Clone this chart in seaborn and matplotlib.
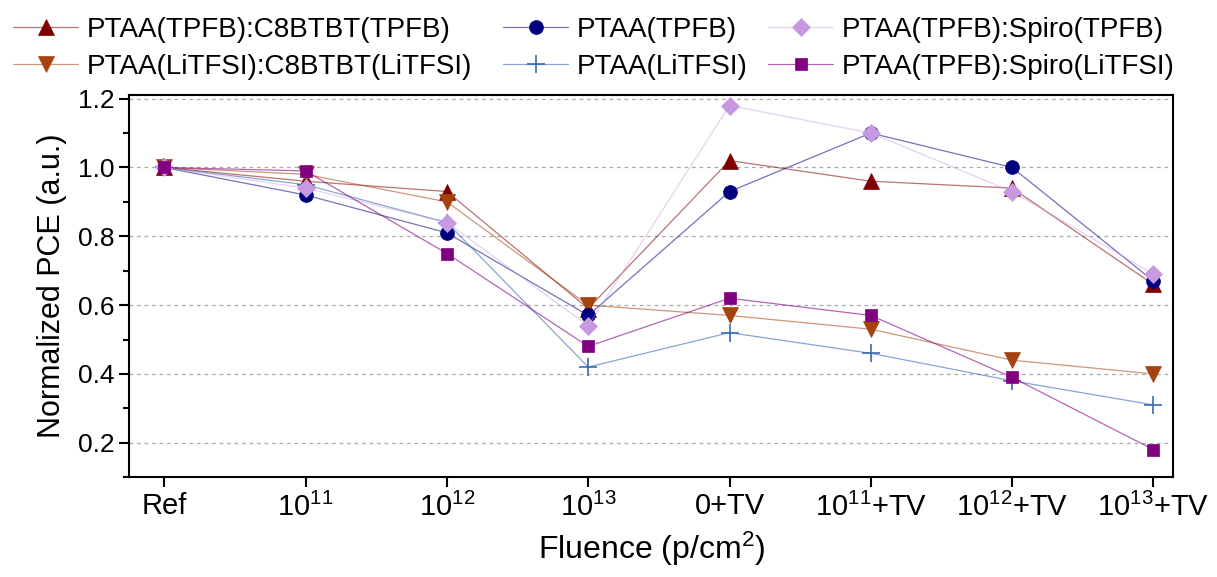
import matplotlib
matplotlib.use("Agg")
import matplotlib.pyplot as plt
import seaborn as sns
import pandas as pd
from matplotlib.colors import to_rgba
from matplotlib.ticker import MultipleLocator

categories = ["Ref", "1e11", "1e12", "1e13", "0+TV", "1e11+TV", "1e12+TV", "1e13+TV"]
tick_labels = ["Ref", r"$\mathregular{10^{11}}$", r"$\mathregular{10^{12}}$", r"$\mathregular{10^{13}}$",
               "0+TV", r"$\mathregular{10^{11}}$+TV", r"$\mathregular{10^{12}}$+TV", r"$\mathregular{10^{13}}$+TV"]

series_names = ["PTAA(TPFB):C8BTBT(TPFB)", "PTAA(LiTFSI):C8BTBT(LiTFSI)", "PTAA(TPFB)",
                "PTAA(LiTFSI)", "PTAA(TPFB):Spiro(TPFB)", "PTAA(TPFB):Spiro(LiTFSI)"]
c8_tpfb = [1.00, 0.96, 0.93, 0.59, 1.02, 0.96, 0.94, 0.66]
c8_litfsi = [1.00, 0.98, 0.90, 0.60, 0.57, 0.53, 0.44, 0.40]
ptaa_tpfb = [1.00, 0.92, 0.81, 0.57, 0.93, 1.10, 1.00, 0.67]
ptaa_litfsi = [1.00, 0.95, 0.84, 0.42, 0.52, 0.46, 0.38, 0.31]
spiro_tpfb = [1.00, 0.94, 0.84, 0.54, 1.18, 1.10, 0.93, 0.69]
spiro_litfsi = [1.00, 0.99, 0.75, 0.48, 0.62, 0.57, 0.39, 0.18]
values = [c8_tpfb, c8_litfsi, ptaa_tpfb, ptaa_litfsi, spiro_tpfb, spiro_litfsi]

colors = ["#7F0000", "#A5420E", "#00007F", "#3A6BB0", "#C699E0", "#800080"]
line_alpha = [0.55, 0.55, 0.55, 0.6, 0.45, 0.6]
markers = ["^", "v", "o", "+", "D", "s"]
msizes = [11, 11, 10, 13, 9, 9]

sns.set_theme(style="white")
plt.rcParams["font.family"] = ["Liberation Sans", "DejaVu Sans"]
plt.rcParams["mathtext.fontset"] = "custom"
plt.rcParams["mathtext.rm"] = "Liberation Sans"
plt.rcParams["mathtext.it"] = "Liberation Sans:italic"
plt.rcParams["text.color"] = "black"
plt.rcParams["axes.labelcolor"] = "black"
plt.rcParams["xtick.color"] = "black"
plt.rcParams["ytick.color"] = "black"

fig = plt.figure(figsize=(12.17, 5.77), dpi=100)
ax = fig.add_axes([0.106, 0.173, 0.858, 0.662])

rows = []
for name, vals in zip(series_names, values):
    for cat, v in zip(categories, vals):
        rows.append({"series": name, "fluence": cat, "pce": v})
df = pd.DataFrame(rows)

handles = []
for name, col, mk, ms, la in zip(series_names, colors, markers, msizes, line_alpha):
    sub = df[df["series"] == name]
    n_before = len(ax.lines)
    sns.lineplot(data=sub, x="fluence", y="pce", ax=ax, sort=False, label=name,
                 color=col, marker=mk, markersize=ms, linewidth=0.9, legend=False)
    line = ax.lines[n_before]
    line.set_color(to_rgba(col, la))
    line.set_markerfacecolor(col)
    line.set_markeredgecolor(col)
    line.set_markeredgewidth(1.2 if mk == "+" else 0.5)
    handles.append(line)

ax.set_xlim(-0.25, 7.14)
ax.set_ylim(0.1, 1.21)
ax.set_xticks(range(len(categories)))
ax.set_xticklabels(tick_labels)
ax.yaxis.set_minor_locator(MultipleLocator(0.1))
ax.set_yticks([0.2, 0.4, 0.6, 0.8, 1.0, 1.2])
ax.set_yticklabels(["0.2", "0.4", "0.6", "0.8", "1.0", "1.2"])

for yv in [0.2, 0.4, 0.6, 0.8, 1.0, 1.2]:
    ax.axhline(yv, color="#AAAAAA", lw=0.9, ls=(0, (3, 3)), zorder=0)

for sp in ax.spines.values():
    sp.set_color("black")
    sp.set_linewidth(1.5)
ax.tick_params(axis="both", which="major", direction="out", length=7, width=1.5,
               colors="black", left=True, bottom=True)
ax.tick_params(axis="y", which="major", labelsize=19)
ax.tick_params(axis="x", which="major", labelsize=21, pad=4)
ax.tick_params(axis="y", which="minor", direction="out", length=4, width=1.5, left=True)

ax.set_xlabel(r"Fluence (p/cm$\mathregular{^2}$)", fontsize=23, labelpad=6, color="black")
ax.set_ylabel("Normalized PCE (a.u.)", fontsize=22, labelpad=8, color="black")

W, H = 1217.0, 577.0
col_x = [13, 503, 768]
for i, cx in enumerate(col_x):
    leg = fig.legend(handles=handles[2 * i:2 * i + 2], labels=series_names[2 * i:2 * i + 2],
                     loc="upper left", bbox_to_anchor=(cx / W, 1 - 17 / H), frameon=False,
                     fontsize=20, handlelength=2.35, handletextpad=0.3, labelspacing=0.38,
                     borderpad=0, borderaxespad=0, labelcolor="black")

fig.savefig("out.png", dpi=100)
